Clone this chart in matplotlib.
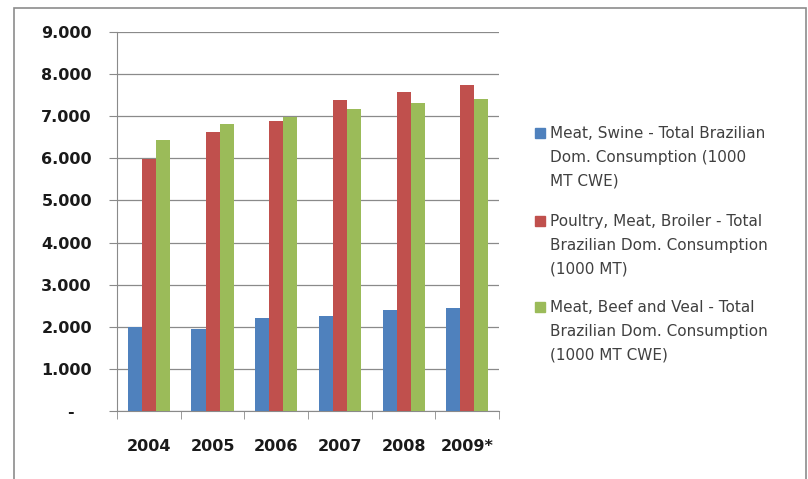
import matplotlib.pyplot as plt
import numpy as np
from matplotlib.patches import Rectangle
from matplotlib.ticker import FuncFormatter

# dados do gráfico (1000 MT)
anos = ['2004', '2005', '2006', '2007', '2008', '2009*']
suinos = [2000, 1950, 2200, 2260, 2390, 2450]
frango = [5990, 6620, 6875, 7380, 7570, 7750]
bovinos = [6440, 6810, 6990, 7165, 7320, 7410]

rotulos = [
    'Meat, Swine - Total Brazilian\nDom. Consumption (1000\nMT CWE)',
    'Poultry, Meat, Broiler - Total\nBrazilian Dom. Consumption\n(1000 MT)',
    'Meat, Beef and Veal - Total\nBrazilian Dom. Consumption\n(1000 MT CWE)',
]
cores = ['#4F81BD', '#C0504D', '#9BBB59']

plt.rcParams['font.family'] = ['DejaVu Sans']

fig = plt.figure(figsize=(8.08, 4.79), dpi=100)
ax = fig.add_axes([0.1448, 0.142, 0.4728, 0.7912])

# moldura externa
fig.patches.append(Rectangle((14 / 808, -0.1), 792 / 808, 1 - 8 / 479 + 0.1,
                             transform=fig.transFigure, fill=False,
                             edgecolor='#8c8c8c', linewidth=1.2))

x = np.arange(len(anos))
larg = 0.22
for i, (serie, cor) in enumerate(zip([suinos, frango, bovinos], cores)):
    ax.bar(x + (i - 1) * larg, serie, width=larg, color=cor, zorder=3)

ax.set_xlim(-0.5, len(anos) - 0.5)
ax.set_ylim(0, 9000)
ax.set_yticks(np.arange(0, 9001, 1000))
# formato contábil: zero aparece como traço
ax.yaxis.set_major_formatter(FuncFormatter(
    lambda v, p: '-   ' if v == 0 else f'{int(v):,}'.replace(',', '.')))
ax.grid(axis='y', color='#8a8a8a', linewidth=0.9, zorder=0)

ax.set_xticks(x)
ax.set_xticklabels(anos)
ax.set_xticks(np.arange(-0.5, len(anos)), minor=True)
ax.tick_params(axis='x', which='major', length=0, pad=20)
ax.tick_params(axis='x', which='minor', length=6, color='#8a8a8a')
ax.tick_params(axis='y', length=6, color='#8a8a8a', pad=12)
for lbl in ax.get_xticklabels() + ax.get_yticklabels():
    lbl.set_fontsize(11.5)
    lbl.set_fontweight('bold')
    lbl.set_color('#1a1a1a')

for lado in ['top', 'right']:
    ax.spines[lado].set_visible(False)
ax.spines['left'].set_color('#8a8a8a')
ax.spines['bottom'].set_color('#8a8a8a')

# legenda manual
ys = [133, 221, 307]
for rot, cor, y in zip(rotulos, cores, ys):
    fig.patches.append(Rectangle((535 / 808, 1 - (y + 5) / 479), 10 / 808, 10 / 479,
                                 transform=fig.transFigure, color=cor))
    fig.text(550 / 808, 1 - (y - 7) / 479, rot, fontsize=11, color='#404040',
             va='top', ha='left', linespacing=1.75)

fig.savefig('out.png', dpi=100)
